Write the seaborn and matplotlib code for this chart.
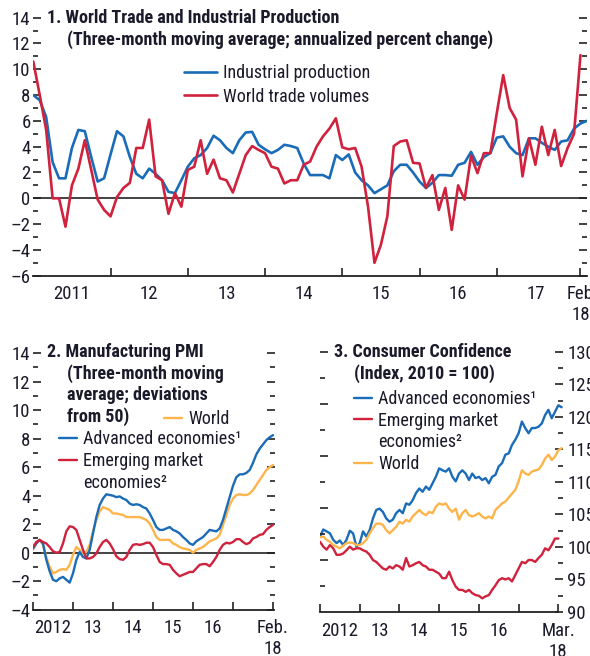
import matplotlib
matplotlib.use("Agg")
import matplotlib.pyplot as plt
import numpy as np
import pandas as pd
import seaborn as sns
from matplotlib import font_manager
from matplotlib.lines import Line2D
from matplotlib.ticker import FixedLocator, FixedFormatter

BLUE = "#1a6cb8"
RED = "#d0213d"
GOLD = "#fdb44b"
INK = "#1a1a2a"

# ---- panel 1: world trade and industrial production, monthly from Jan 2011 ----
ind_production = [
    8.0, 7.6, 6.3, 2.8, 1.55, 1.55, 3.9, 5.3, 5.2, 3.2, 1.3, 1.55,
    3.4, 5.2, 4.8, 3.2, 1.9, 1.55, 2.3, 1.9, 1.4, 0.5, 0.4, 1.4,
    2.45, 3.1, 3.35, 3.9, 4.85, 4.5, 3.9, 3.5, 4.5, 5.1, 5.15, 4.15,
    3.8, 3.5, 3.75, 4.15, 4.05, 3.9, 2.7, 1.8, 1.8, 1.8, 1.55, 3.35,
    2.97, 3.4, 2.0, 1.4, 1.0, 0.4, 0.7, 1.0, 2.1, 2.6, 2.6, 2.0,
    1.3, 0.8, 1.2, 1.8, 1.8, 1.75, 2.6, 2.75, 3.6, 2.6, 3.2, 3.5,
    4.7, 4.8, 4.0, 3.5, 3.35, 4.65, 4.65, 4.3, 4.0, 3.75, 4.4, 4.5,
    5.4, 5.8, 6.0,
]
trade_volumes = [
    10.6, 8.0, 5.3, 0.0, 0.0, -2.2, 1.0, 2.3, 4.5, 2.2, -0.1, -0.9,
    -1.4, 0.1, 0.8, 1.2, 3.9, 3.9, 6.1, 1.7, 1.4, -1.2, 0.4, -0.65,
    2.2, 2.45, 4.5, 1.9, 3.0, 1.55, 1.4, 0.45, 1.9, 3.35, 4.05, 3.75,
    3.5, 2.45, 2.3, 1.15, 1.4, 1.4, 2.6, 2.85, 4.0, 4.8, 5.4, 6.2,
    3.95, 3.8, 3.9, 2.45, -0.65, -5.0, -3.6, -1.4, 4.05, 4.4, 4.5, 2.75,
    2.7, 0.8, 1.8, -0.9, 0.8, -2.45, 1.0, -0.1, 3.3, 1.95, 3.5, 3.5,
    6.6, 9.55, 7.0, 6.1, 1.7, 4.65, 2.6, 5.55, 3.35, 5.3, 2.5, 3.9,
    5.0, 11.1,
]
p1_label_pos = [6, 18, 30, 42, 54, 66, 78]
p1_labels = ["2011", "12", "13", "14", "15", "16", "17"]
p1_bounds = [12, 24, 36, 48, 60, 72, 85]
p1_bound_labels = ["", "", "", "", "", "", "Feb\n18"]

# ---- panel 2: manufacturing PMI, monthly from Jan 2012 ----
pmi_advanced = [
    0.3, 0.65, 0.9, 0.65, -0.5, -1.3, -1.9, -2.0, -1.8, -1.7, -1.9, -2.1,
    -1.45, -0.5, 0.05, -0.3, -0.4, 0.2, 1.35, 2.5, 3.35, 3.8, 4.1, 4.05,
    4.0, 3.9, 3.95, 3.8, 3.7, 3.45, 3.35, 3.4, 3.35, 3.2, 3.1, 2.75,
    2.3, 1.8, 1.6, 1.6, 1.7, 1.8, 1.6, 1.5, 1.35, 1.1, 0.9, 0.65,
    0.55, 0.8, 0.95, 1.1, 1.35, 1.6, 1.55, 1.5, 1.7, 2.3, 3.1, 3.9,
    4.7, 5.3, 5.5, 5.5, 5.6, 5.8, 6.3, 6.9, 7.3, 7.6, 7.9, 8.1,
    8.25,
]
pmi_emerging = [
    0.4, 0.75, 0.9, 0.75, 0.65, 0.4, 0.1, 0.0, 0.05, 0.65, 1.5, 1.85,
    1.8, 1.6, 0.9, 0.2, -0.4, -0.4, -0.3, -0.05, 0.4, 0.75, 0.9, 0.65,
    0.25, -0.25, -0.45, -0.5, -0.3, 0.2, 0.55, 0.6, 0.55, 0.6, 0.7, 0.7,
    0.4, -0.15, -0.65, -0.8, -0.8, -0.85, -1.2, -1.45, -1.65, -1.55, -1.45, -1.35,
    -1.35, -1.1, -0.85, -0.8, -0.8, -0.95, -0.65, -0.3, 0.2, 0.55, 0.7, 0.65,
    0.75, 0.95, 0.95, 0.75, 0.6, 0.7, 1.0, 1.1, 1.25, 1.3, 1.6, 1.8,
    1.95,
]
pmi_world = [
    0.2, 0.65, 0.9, 0.55, -0.3, -1.0, -1.45, -1.35, -1.2, -1.15, -1.2, -0.85,
    -0.15, 0.4, 0.2, -0.05, 0.05, 0.55, 1.5, 2.3, 2.9, 3.2, 3.1, 3.0,
    2.75, 2.75, 2.7, 2.65, 2.5, 2.5, 2.5, 2.5, 2.5, 2.4, 2.3, 2.05,
    1.6, 1.1, 0.9, 0.9, 0.9, 0.9, 0.65, 0.55, 0.4, 0.3, 0.25, 0.2,
    0.0, 0.2, 0.3, 0.4, 0.6, 0.8, 0.9, 1.0, 1.25, 1.95, 2.65, 3.35,
    3.8, 4.05, 4.1, 4.05, 4.05, 4.15, 4.4, 4.75, 5.1, 5.45, 5.8, 6.0,
    6.15,
]
p2_label_pos = [6, 18, 30, 42, 54]
p2_labels = ["2012", "13", "14", "15", "16"]
p2_bounds = [0, 12, 24, 36, 48, 60, 72]
p2_bound_labels = ["", "", "", "", "", "", "Feb.\n18"]

# ---- panel 3: consumer confidence, monthly from Jan 2012 ----
cc_advanced = [
    101.6, 102.7, 102.4, 102.1, 101.1, 100.6, 101.0, 100.3, 101.1, 102.5, 102.1, 100.05,
    100.6, 102.4, 101.6, 102.6, 104.4, 105.7, 105.9, 105.4, 104.4, 103.9, 104.2, 105.2,
    105.7, 105.2, 106.7, 106.5, 107.2, 108.3, 109.0, 108.5, 109.3, 108.8, 109.8, 110.8,
    112.1, 111.8, 111.6, 112.1, 110.8, 110.1, 111.3, 111.8, 111.3, 110.3, 111.3, 110.6,
    110.8, 110.3, 110.6, 109.8, 110.8, 111.1, 112.4, 112.9, 114.2, 114.4, 115.7, 116.5,
    117.5, 119.3, 118.3, 117.5, 118.3, 118.3, 118.5, 119.0, 120.3, 121.1, 119.8, 120.8,
    121.8, 121.5,
]
cc_emerging = [
    100.8, 100.05, 99.6, 100.3, 99.8, 98.8, 98.8, 99.0, 99.5, 100.05, 99.6, 99.8,
    99.8, 99.5, 99.3, 98.8, 98.0, 97.7, 97.2, 96.7, 96.5, 97.0, 96.7, 97.2,
    97.0, 96.5, 98.3, 97.0, 97.2, 97.5, 97.7, 97.2, 97.0, 96.5, 96.5, 96.2,
    95.9, 95.2, 95.2, 96.2, 94.9, 93.9, 93.4, 93.4, 93.1, 93.4, 92.9, 92.6,
    92.5, 92.1, 92.4, 92.6, 93.4, 94.1, 94.9, 95.2, 95.0, 95.2, 94.7, 95.7,
    96.7, 97.7, 97.5, 98.0, 98.0, 97.7, 98.3, 98.8, 99.8, 99.5, 100.3, 101.3,
    101.3,
]
cc_world = [
    101.5, 101.6, 101.1, 100.8, 100.3, 100.05, 99.8, 100.2, 100.6, 100.7, 100.6, 100.3,
    100.3, 100.6, 101.1, 102.1, 102.9, 103.6, 103.6, 103.4, 102.6, 102.1, 102.6, 103.1,
    103.9, 103.6, 104.2, 103.9, 104.7, 105.2, 105.7, 105.2, 104.9, 105.4, 105.2, 106.2,
    106.7, 106.5, 106.7, 105.9, 105.4, 105.9, 104.2, 105.2, 105.7, 104.9, 104.7, 104.9,
    105.2, 104.7, 104.4, 104.7, 104.4, 105.7, 106.2, 106.7, 107.0, 107.6, 108.2, 108.8,
    110.1, 111.8, 111.3, 111.1, 111.6, 111.8, 111.9, 112.6, 113.6, 114.2, 113.4, 113.9,
    114.9, 115.2,
]
p3_label_pos = [6, 18, 30, 42, 54]
p3_labels = ["2012", "13", "14", "15", "16"]
p3_bounds = [0, 12, 24, 36, 48, 60, 72]
p3_bound_labels = ["", "", "", "", "", "", "Mar.\n18"]


def pick_family(candidates):
    faces = font_manager.fontManager.ttflist
    for name in candidates:
        weights = {f.weight for f in faces if f.name == name}
        if weights & {700, "bold"} and weights & {400, "normal", "regular"}:
            return name
    return "DejaVu Sans"


FAMILY = pick_family(["Roboto Condensed", "Archivo Narrow", "PT Sans Narrow",
                      "Encode Sans Condensed", "Barlow Semi Condensed"])

sns.set_theme(style="white")
plt.rcParams["font.family"] = [FAMILY, "DejaVu Sans"]
plt.rcParams["text.color"] = INK
plt.rcParams["xtick.color"] = INK
plt.rcParams["ytick.color"] = INK

W, H = 590, 656
FS = 13.5
fig = plt.figure(figsize=(W / 100, H / 100), dpi=100)
fig.patch.set_facecolor("white")


def box(left, top, right, bottom):
    return [left / W, 1 - bottom / H, (right - left) / W, (bottom - top) / H]


def ftxt(x, y, s, **kw):
    fig.text(x / W, 1 - y / H, s, va="center", ha="left", **kw)


def style_axes(ax, label_pos, labels, bounds, bound_labels):
    ax.set_facecolor("none")
    for side in ["left", "right", "top"]:
        ax.spines[side].set_visible(False)
    ax.spines["bottom"].set_color("#222222")
    ax.spines["bottom"].set_linewidth(1.3)
    ax.xaxis.set_major_locator(FixedLocator(bounds))
    ax.xaxis.set_major_formatter(FixedFormatter(bound_labels))
    ax.xaxis.set_minor_locator(FixedLocator(label_pos))
    ax.xaxis.set_minor_formatter(FixedFormatter(labels))
    ax.tick_params(axis="x", which="major", direction="in", length=6, width=1.2,
                   color="#222222", bottom=True, top=False, pad=7, labelsize=FS)
    ax.tick_params(axis="x", which="minor", length=0, pad=7, labelsize=FS)
    ax.set_xlabel("")
    ax.set_ylabel("")


def plot_series(ax, values, color, lw):
    df = pd.DataFrame({"month": np.arange(len(values)), "value": values})
    sns.lineplot(data=df, x="month", y="value", color=color, lw=lw, ax=ax,
                 legend=False, zorder=3)
    return ax.get_lines()[-1]


def y_ticks(ax, major, minor, left=True, right=True, labelleft=True, labelright=False):
    ax.yaxis.set_major_locator(FixedLocator(major))
    ax.yaxis.set_minor_locator(FixedLocator(minor))
    ax.tick_params(axis="y", which="major", direction="in", length=6, width=1.2,
                   color="#222222", left=left, right=right, labelleft=labelleft,
                   labelright=labelright, pad=2, labelsize=FS)
    ax.tick_params(axis="y", which="minor", direction="in", length=3.5, width=1.2,
                   color="#222222", left=left, right=right)


def dash_labels(values):
    return [str(v).replace("-", "\u2013") for v in values]


blank = Line2D([], [], color="none")
leg_kw = dict(bbox_transform=fig.transFigure, frameon=False, fontsize=13,
              handletextpad=0.35, borderpad=0, borderaxespad=0, loc="upper left")

# ---- panel 1 ----
ax1 = fig.add_axes(box(33.3, 17.7, 586.9, 275.7))
ax1.axhline(0, color="#222222", lw=1.2, zorder=2)
h_ip = plot_series(ax1, ind_production, BLUE, 1.9)
h_tv = plot_series(ax1, trade_volumes, RED, 1.9)
ax1.set_xlim(0, 86)
ax1.set_ylim(-6, 14)
style_axes(ax1, p1_label_pos, p1_labels, p1_bounds, p1_bound_labels)
y_ticks(ax1, list(range(-6, 15, 2)), list(range(-5, 14, 2)))
ax1.yaxis.set_major_formatter(FixedFormatter(dash_labels(range(-6, 15, 2))))
ax1.legend([h_ip, h_tv], ["Industrial production", "World trade volumes"],
           bbox_to_anchor=(184 / W, 1 - 64 / H), handlelength=1.8,
           labelspacing=0.31, **leg_kw)
ftxt(47, 18, "1. World Trade and Industrial Production", fontsize=13, fontweight="bold")
ftxt(67, 40, "(Three-month moving average; annualized percent change)",
     fontsize=13, fontweight="bold")

# ---- panel 2 ----
ax2 = fig.add_axes(box(33, 353.2, 275, 609.7))
ax2.axhline(0, color="#222222", lw=1.2, zorder=2)
h_pw = plot_series(ax2, pmi_world, GOLD, 1.7)
h_pa = plot_series(ax2, pmi_advanced, BLUE, 1.7)
h_pe = plot_series(ax2, pmi_emerging, RED, 1.7)
ax2.set_xlim(0, 72.6)
ax2.set_ylim(-4, 14)
style_axes(ax2, p2_label_pos, p2_labels, p2_bounds, p2_bound_labels)
ax2.spines["bottom"].set_bounds(0, 72)
y_ticks(ax2, list(range(-4, 15, 2)), list(range(-3, 14, 2)))
ax2.yaxis.set_major_formatter(FixedFormatter(dash_labels(range(-4, 15, 2))))
leg_w = ax2.legend([h_pw], ["World"], bbox_to_anchor=(164 / W, 1 - 410 / H),
                   handlelength=1.0, **leg_kw)
ax2.add_artist(leg_w)
ax2.legend([h_pa, h_pe, blank], ["Advanced economies\u00b9", "Emerging market", "economies\u00b2"],
           bbox_to_anchor=(59 / W, 1 - 430.5 / H), handlelength=1.0,
           labelspacing=0.21, **leg_kw)
ftxt(47, 352, "2. Manufacturing PMI", fontsize=13, fontweight="bold")
for i, line in enumerate(["(Three-month moving", "average; deviations", "from 50)"]):
    ftxt(67, 374 + 21.5 * i, line, fontsize=13, fontweight="bold")

# ---- panel 3 ----
ax3 = fig.add_axes(box(320, 352, 563.3, 612))
h_ca = plot_series(ax3, cc_advanced, BLUE, 1.7)
h_ce = plot_series(ax3, cc_emerging, RED, 1.7)
h_cw = plot_series(ax3, cc_world, GOLD, 1.7)
ax3.set_xlim(0, 73.5)
ax3.set_ylim(90, 130)
style_axes(ax3, p3_label_pos, p3_labels, p3_bounds, p3_bound_labels)
ax3.spines["bottom"].set_bounds(0, 72)
y_ticks(ax3, list(range(90, 131, 5)), list(np.arange(92.5, 130, 5)),
        left=False, right=True, labelleft=False, labelright=True)
ax3.tick_params(axis="y", which="major", pad=3)
ax3.legend([h_ca, h_ce, blank, h_cw],
           ["Advanced economies\u00b9", "Emerging market", "economies\u00b2", "World"],
           bbox_to_anchor=(354 / W, 1 - 390 / H), handlelength=1.0,
           labelspacing=0.2, **leg_kw)
ftxt(334, 352, "3. Consumer Confidence", fontsize=13, fontweight="bold")
ftxt(354, 374, "(Index, 2010 = 100)", fontsize=13, fontweight="bold")

# left-hand tick marks of panel 3 sit on their own grid
ax3l = fig.add_axes(box(320, 352, 563.3, 612), frameon=False)
ax3l.set_ylim(90, 130)
ax3l.set_xticks([])
y_ticks(ax3l, list(range(130, 93, -8)), list(range(126, 93, -8)),
        left=True, right=False, labelleft=False)

fig.savefig("out.png", dpi=100, facecolor="white")
